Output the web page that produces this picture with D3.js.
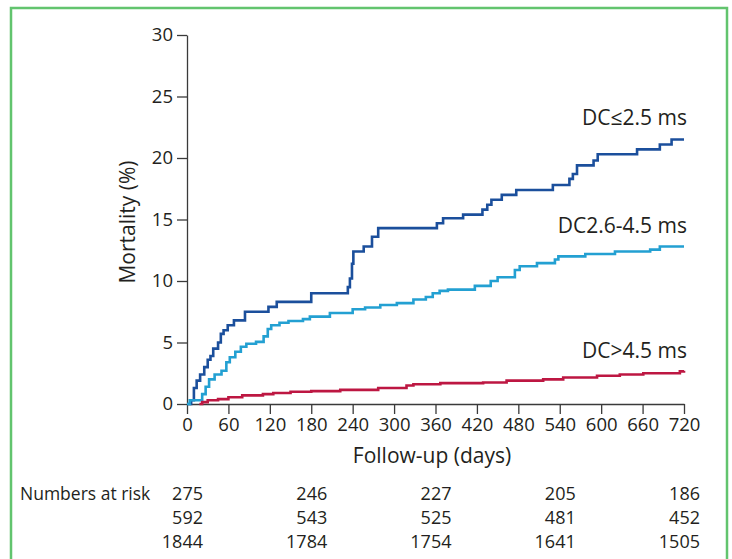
<!DOCTYPE html>
<html>
<head>
<meta charset="utf-8">
<script src="https://cdn.jsdelivr.net/npm/d3@7"></script>
<style>
  body { margin: 0; background: #fff; }
  svg text { font-family: "Open Sans", "Noto Sans", sans-serif; fill: #231f20; }
</style>
</head>
<body>
<svg></svg>
<script>
// Kaplan-Meier style curves, [day, mortality %]
let dcLow = [[0,0],[6,0.3],[10,1.3],[14,1.9],[19,2.4],[25,3.0],[30,3.6],[34,3.9],[38,4.5],[45,5.0],[49,5.7],[53,6.0],[59,6.4],[68,6.8],[84,7.5],[118,7.9],[130,8.3],[180,9.0],[233,9.5],[236,10.2],[239,11.4],[241,12.4],[256,12.8],[268,13.6],[277,14.3],[362,14.7],[371,15.1],[400,15.4],[428,15.8],[435,16.2],[441,16.6],[456,17.0],[477,17.4],[530,17.8],[554,18.3],[559,18.7],[565,19.4],[589,19.8],[595,20.3],[652,20.7],[685,21.1],[702,21.5],[720,21.5]];
let dcMid = [[0,0],[4,0.3],[22,0.8],[27,1.4],[32,2.0],[40,2.4],[50,2.7],[57,3.4],[62,3.8],[70,4.25],[78,4.65],[86,4.9],[100,5.05],[111,5.5],[117,6.1],[122,6.4],[134,6.6],[147,6.75],[168,6.9],[178,7.1],[207,7.4],[240,7.7],[258,7.85],[280,8.05],[304,8.2],[328,8.5],[346,8.7],[356,9.0],[366,9.2],[378,9.3],[417,9.6],[440,10.0],[450,10.3],[475,10.9],[482,11.2],[507,11.45],[533,11.75],[538,12.0],[577,12.2],[620,12.4],[671,12.55],[685,12.8],[720,12.8]];
let dcHigh = [[18,0],[22,0.15],[30,0.3],[45,0.4],[60,0.55],[80,0.7],[110,0.8],[125,0.9],[150,1.0],[180,1.05],[222,1.15],[277,1.3],[318,1.5],[328,1.6],[367,1.7],[429,1.75],[463,1.9],[516,2.0],[545,2.15],[594,2.3],[627,2.4],[661,2.5],[714,2.65],[720,2.7]];

let seriesNames = ["DC\u22642.5 ms", "DC2.6-4.5 ms", "DC>4.5 ms"];
let seriesColors = ["#1b4f9c", "#23a0d2", "#bd1742"];

let xTicks = [0, 60, 120, 180, 240, 300, 360, 420, 480, 540, 600, 660, 720];
let yTicks = [0, 5, 10, 15, 20, 25, 30];

let riskDays = [0, 180, 360, 540, 720];
let riskLow = [275, 246, 227, 205, 186];
let riskMid = [592, 543, 525, 481, 452];
let riskHigh = [1844, 1784, 1754, 1641, 1505];

let width = 732;
let height = 559;

let svg = d3.select("svg").attr("width", width).attr("height", height);

// green frame
svg.append("rect")
   .attr("x", 11).attr("y", 8)
   .attr("width", 716).attr("height", 560)
   .attr("fill", "none")
   .attr("stroke", "#62c46e")
   .attr("stroke-width", 2.5);

let xScale = d3.scaleLinear().domain([0, 720]).range([187, 684]);
let yScale = d3.scaleLinear().domain([0, 30]).range([404, 35]);

let xAxis = d3.axisBottom(xScale).tickValues(xTicks).tickSize(10).tickSizeOuter(0);
let yAxis = d3.axisLeft(yScale).tickValues(yTicks).tickSize(10).tickSizeOuter(0);

let gx = svg.append("g").attr("transform", "translate(0, 404)").call(xAxis);
let gy = svg.append("g").attr("transform", "translate(187, 0)").call(yAxis);

[gx, gy].forEach(g => {
  g.selectAll("path, line").attr("stroke", "#3a3a3a").attr("stroke-width", 1.3);
  g.selectAll("text").attr("font-size", 18.5).attr("fill", "#231f20")
   .style("font-family", "'Open Sans', sans-serif");
});
gx.selectAll("text").attr("dy", "0.9em").attr("y", 10);
gy.selectAll("text").attr("x", -14);

let line = d3.line()
  .x(d => xScale(d[0]))
  .y(d => yScale(d[1]))
  .curve(d3.curveStepAfter);

[dcLow, dcMid, dcHigh].forEach((s, i) => {
  svg.append("path")
     .datum(s)
     .attr("d", line)
     .attr("fill", "none")
     .attr("stroke", seriesColors[i])
     .attr("stroke-width", 2.6);
});

// curve labels
let labelY = [125, 233, 358];
seriesNames.forEach((n, i) => {
  svg.append("text")
     .attr("x", 687).attr("y", labelY[i])
     .attr("text-anchor", "end")
     .attr("font-size", 21)
     .text(n);
});

svg.append("text")
   .attr("transform", "translate(135, 222) rotate(-90)")
   .attr("text-anchor", "middle")
   .attr("font-size", 21)
   .text("Mortality (%)");

svg.append("text")
   .attr("x", 432).attr("y", 463)
   .attr("text-anchor", "middle")
   .attr("font-size", 21)
   .text("Follow-up (days)");

// numbers at risk
svg.append("text")
   .attr("x", 20).attr("y", 500)
   .attr("font-size", 17.5)
   .text("Numbers at risk");

let rowY = [500, 524, 548];
[riskLow, riskMid, riskHigh].forEach((row, r) => {
  svg.selectAll(null)
     .data(row)
     .enter()
     .append("text")
     .attr("x", (d, i) => xScale(riskDays[i]) + 16)
     .attr("y", rowY[r])
     .attr("text-anchor", "end")
     .attr("font-size", 18)
     .text(d => d);
});
</script>
</body>
</html>
